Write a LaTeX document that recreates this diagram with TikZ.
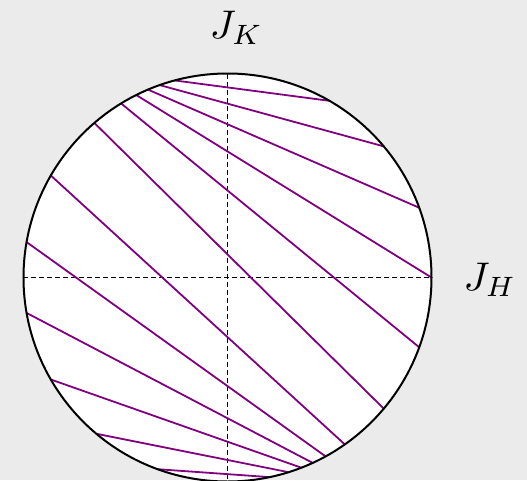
\documentclass[tikz,border=0pt]{standalone}
\usepackage{graphicx}
\definecolor{bgc}{RGB}{235,235,235}
\definecolor{chordc}{RGB}{128,0,128}
\newcommand{\biglab}[1]{\scalebox{4}{$#1$}}
\begin{document}
\begin{tikzpicture}[x=1pt,y=1pt,
  axisline/.style={black,line width=0.7pt,dash pattern=on 5pt off 3pt},
  chordline/.style={chordc,line width=1.8pt},
  rim/.style={black,line width=2pt},
  lab/.style={inner sep=0pt}]
\fill[bgc] (-227.5,-202.5) rectangle (299.5,277.5);
\useasboundingbox (-227.5,-202.5) rectangle (299.5,277.5);
\def\R{204}
\coordinate (O) at (0,0);
\fill[white] (O) circle (\R);
\coordinate (L) at (-\R,0);
\coordinate (Rr) at (\R,0);
\coordinate (T) at (0,\R);
\coordinate (B) at (0,-\R);
\draw[axisline] (L) -- (Rr);
\draw[axisline] (T) -- (B);
\foreach \p in {60,40,20,0,-20,-40,150,170,190,210,230,250}{
  \pgfmathsetmacro{\q}{atan2(2*cos(\p)+sin(\p),-cos(\p))}
  \coordinate (P) at (\p:\R);
  \coordinate (Q) at (\q:\R);
  \draw[chordline] (P) -- (Q);
}
\draw[rim] (O) circle (\R);
\node[lab] (jk) at (9,249.5) {\biglab{J_K}};
\node[lab] (jh) at (262.5,-2) {\biglab{J_H}};
\end{tikzpicture}
\end{document}
